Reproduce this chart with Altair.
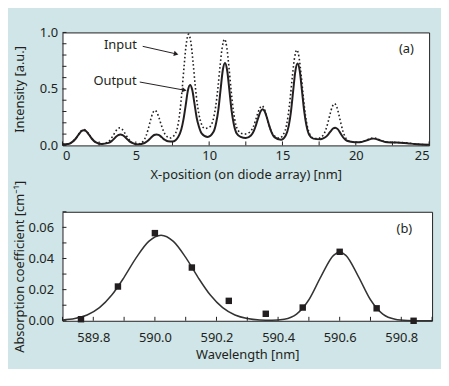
import altair as alt
import pandas as pd

INK = "#231f20"
BG = "#cfe5e8"
FONT = "Noto Sans"

# ---------------- panel (a) data ----------------
out_x = [0.0, 0.4, 0.65, 0.85, 1.0, 1.15, 1.3, 1.45, 1.6, 1.75, 1.9, 2.05, 2.25, 2.65,
         3.15, 3.35, 3.5, 3.65, 3.8, 3.95, 4.1, 4.25, 4.4, 4.55, 4.75, 5.15,
         5.6, 5.8, 5.95, 6.1, 6.25, 6.4, 6.55, 6.7, 6.85, 7.0, 7.2, 7.5,
         7.9, 8.1, 8.25, 8.4, 8.55, 8.7, 8.85, 9.0, 9.15, 9.3, 9.5, 9.9,
         10.3, 10.48, 10.63, 10.78, 10.93, 11.08, 11.23, 11.38, 11.53, 11.68, 11.88, 12.15, 12.5,
         12.85, 13.05, 13.2, 13.35, 13.5, 13.65, 13.8, 13.95, 14.1, 14.25, 14.45, 14.9,
         15.23, 15.43, 15.58, 15.73, 15.88, 16.03, 16.18, 16.33, 16.48, 16.63, 16.83, 17.1, 17.6,
         17.8, 18.0, 18.15, 18.3, 18.45, 18.6, 18.75, 18.9, 19.05, 19.2, 19.4, 19.8, 20.1,
         20.4, 20.6, 20.75, 20.9, 21.05, 21.2, 21.35, 21.5, 21.65, 21.8, 22.0, 22.5, 23.0, 23.5, 24.0, 24.5, 25.0]
out_y = [0.010, 0.013, 0.029, 0.052, 0.077, 0.105, 0.127, 0.135, 0.127, 0.105, 0.077, 0.052, 0.029, 0.013,
         0.022, 0.038, 0.056, 0.076, 0.091, 0.097, 0.091, 0.076, 0.056, 0.038, 0.022, 0.009,
         0.021, 0.038, 0.057, 0.077, 0.092, 0.097, 0.093, 0.080, 0.062, 0.048, 0.036, 0.034,
         0.077, 0.140, 0.230, 0.355, 0.485, 0.535, 0.490, 0.370, 0.245, 0.168, 0.105, 0.075,
         0.120, 0.200, 0.317, 0.494, 0.665, 0.730, 0.663, 0.489, 0.308, 0.190, 0.105, 0.075, 0.065,
         0.087, 0.128, 0.182, 0.245, 0.299, 0.320, 0.298, 0.241, 0.174, 0.117, 0.073, 0.050,
         0.090, 0.175, 0.300, 0.482, 0.658, 0.725, 0.658, 0.485, 0.305, 0.180, 0.092, 0.060, 0.055,
         0.064, 0.080, 0.102, 0.127, 0.149, 0.157, 0.146, 0.120, 0.088, 0.062, 0.041, 0.030, 0.028,
         0.031, 0.038, 0.045, 0.052, 0.058, 0.060, 0.058, 0.052, 0.045, 0.038, 0.031, 0.026, 0.024, 0.020, 0.012, 0.007, 0.005]

in_x = [0.0, 0.4, 0.65, 0.85, 1.0, 1.15, 1.3, 1.45, 1.6, 1.75, 1.9, 2.05, 2.25, 2.65,
        3.1, 3.3, 3.45, 3.6, 3.75, 3.9, 4.05, 4.2, 4.35, 4.5, 4.7, 5.1,
        5.5, 5.7, 5.85, 6.0, 6.15, 6.3, 6.45, 6.6, 6.75, 6.9, 7.1, 7.3,
        7.5, 7.8, 8.0, 8.15, 8.3, 8.45, 8.6, 8.75, 8.9, 9.05, 9.2, 9.4, 9.7,
        10.0, 10.25, 10.45, 10.6, 10.75, 10.9, 11.05, 11.2, 11.35, 11.5, 11.65, 11.85, 12.1, 12.4,
        12.8, 13.0, 13.15, 13.3, 13.45, 13.6, 13.75, 13.9, 14.05, 14.2, 14.4, 14.8,
        15.18, 15.38, 15.53, 15.68, 15.83, 15.98, 16.13, 16.28, 16.43, 16.58, 16.78, 17.1, 17.4,
        17.75, 17.95, 18.1, 18.25, 18.4, 18.55, 18.7, 18.85, 19.0, 19.15, 19.35, 19.75, 20.1,
        20.4, 20.6, 20.75, 20.9, 21.05, 21.2, 21.35, 21.5, 21.65, 21.8, 22.0, 22.5, 23.0, 23.5, 24.0, 24.5, 25.0]
in_y = [0.010, 0.013, 0.029, 0.054, 0.080, 0.109, 0.131, 0.140, 0.131, 0.109, 0.080, 0.054, 0.029, 0.013,
        0.030, 0.057, 0.087, 0.119, 0.145, 0.155, 0.145, 0.119, 0.087, 0.057, 0.030, 0.010,
        0.036, 0.085, 0.147, 0.222, 0.285, 0.310, 0.289, 0.237, 0.175, 0.122, 0.081, 0.065,
        0.075, 0.139, 0.290, 0.484, 0.714, 0.908, 0.985, 0.916, 0.740, 0.532, 0.358, 0.221, 0.150,
        0.160, 0.217, 0.347, 0.512, 0.709, 0.874, 0.940, 0.870, 0.694, 0.485, 0.309, 0.171, 0.115, 0.100,
        0.121, 0.162, 0.215, 0.277, 0.329, 0.350, 0.326, 0.266, 0.196, 0.136, 0.089, 0.065,
        0.131, 0.259, 0.422, 0.616, 0.780, 0.845, 0.780, 0.615, 0.420, 0.255, 0.127, 0.065, 0.060,
        0.086, 0.137, 0.202, 0.279, 0.344, 0.370, 0.342, 0.270, 0.186, 0.115, 0.059, 0.030, 0.028,
        0.032, 0.040, 0.048, 0.056, 0.063, 0.066, 0.063, 0.056, 0.048, 0.040, 0.032, 0.027, 0.025, 0.022, 0.013, 0.008, 0.005]

a_xlabels = [0, 5, 10, 15, 20, 25]
a_ylabels = [0.0, 0.5, 1.0]
a_xticks = [0, 2.5, 5, 7.5, 10, 12.5, 15, 17.5, 20, 22.5, 25]
a_yticks = [0.0, 0.1, 0.2, 0.3, 0.4, 0.5, 0.6, 0.7, 0.8, 0.9, 1.0]

a_labels = ["Input", "Output", "(a)"]
a_label_x = [3.95, 3.58, 23.45]
a_label_y = [0.892, 0.57, 0.85]
arrow_x1 = [5.47, 5.27]
arrow_y1 = [0.877, 0.561]
arrow_x2 = [7.75, 8.31]
arrow_y2 = [0.81, 0.489]

# ---------------- panel (b) data ----------------
meas_wl = [589.76, 589.88, 590.00, 590.12, 590.24, 590.36, 590.48, 590.60, 590.72, 590.84]
meas_abs = [0.0010, 0.0220, 0.0563, 0.0342, 0.0128, 0.0045, 0.0085, 0.0443, 0.0080, 0.0000]

fit_wl = [589.70, 589.74, 589.78, 589.82, 589.86, 589.90, 589.94, 589.98, 590.02, 590.06,
          590.10, 590.14, 590.18, 590.22, 590.26, 590.30, 590.34, 590.38, 590.42, 590.46,
          590.50, 590.54, 590.58, 590.60, 590.62, 590.66, 590.70, 590.74, 590.78, 590.82,
          590.86, 590.90]
fit_abs = [0.0005, 0.0014, 0.0037, 0.0084, 0.0165, 0.0279, 0.0407, 0.0510, 0.0550, 0.0510,
           0.0407, 0.0279, 0.0165, 0.0084, 0.0037, 0.0014, 0.0005, 0.0003, 0.0010, 0.0043,
           0.0135, 0.0287, 0.0420, 0.0440, 0.0420, 0.0287, 0.0135, 0.0043, 0.0010, 0.0002,
           0.0000, 0.0000]

b_xlabels = [589.8, 590.0, 590.2, 590.4, 590.6, 590.8]
b_ylabels = [0.00, 0.02, 0.04, 0.06]
b_xticks = [589.7, 589.8, 589.9, 590.0, 590.1, 590.2, 590.3, 590.4, 590.5, 590.6, 590.7, 590.8, 590.9]
b_yticks = [0.00, 0.01, 0.02, 0.03, 0.04, 0.05, 0.06, 0.07]
b_label = ["(b)"]
b_label_x = [590.81]
b_label_y = [0.0587]

# ---------------- panel (a) ----------------
WA, HA = 370, 114
sxa = alt.Scale(domain=[0, 25], nice=False, zero=False)
sya = alt.Scale(domain=[0, 1], nice=False, zero=False)
ax_xa = alt.Axis(title="X-position (on diode array)  [nm]", values=a_xlabels, format="d",
                 labelPadding=4, titlePadding=6)
ax_ya = alt.Axis(title="Intensity [a.u.]", values=a_ylabels, format=".1f",
                 labelPadding=5, titlePadding=0, minExtent=36, maxExtent=36)

def XA(f):
    return alt.X(f, type="quantitative", scale=sxa, axis=ax_xa)

def YA(f):
    return alt.Y(f, type="quantitative", scale=sya, axis=ax_ya)

df_in = pd.DataFrame({"x": in_x, "y": in_y})
df_out = pd.DataFrame({"x": out_x, "y": out_y})

line_in = alt.Chart(df_in).mark_line(color=INK, strokeWidth=1.6, strokeDash=[1.6, 2.4],
                                      interpolate="monotone").encode(x=XA("x"), y=YA("y"))
line_out = alt.Chart(df_out).mark_line(color=INK, strokeWidth=2,
                                        interpolate="monotone").encode(x=XA("x"), y=YA("y"))

ytick_a = alt.Chart(pd.DataFrame({"v": a_yticks})).mark_rule(color=INK, strokeWidth=1).encode(
    y=YA("v"), x=alt.value(0), x2=alt.value(4))
xtick_a = alt.Chart(pd.DataFrame({"v": a_xticks})).mark_rule(color=INK, strokeWidth=1).encode(
    x=XA("v"), y=alt.value(HA), y2=alt.value(HA - 4))

df_arrow = pd.DataFrame({"x1": arrow_x1, "y1": arrow_y1, "x2": arrow_x2, "y2": arrow_y2,
                         "ang": [13, 11]})
arrows = alt.Chart(df_arrow).mark_rule(color=INK, strokeWidth=1).encode(
    x=XA("x1"), y=YA("y1"), x2="x2:Q", y2="y2:Q")
heads = alt.Chart(df_arrow).mark_point(shape="triangle-right", filled=True, size=28,
                                        color=INK, opacity=1).encode(
    x=XA("x2"), y=YA("y2"), angle=alt.Angle("ang:Q", scale=None))

texts_a = alt.Chart(pd.DataFrame({"t": a_labels, "x": a_label_x, "y": a_label_y})).mark_text(
    font=FONT, fontSize=13, color=INK, align="center", baseline="middle").encode(
    x=XA("x"), y=YA("y"), text="t:N")

panel_a = alt.layer(line_in, line_out, ytick_a, xtick_a, arrows, heads, texts_a).properties(
    width=WA, height=HA)

# ---------------- panel (b) ----------------
WB, HB = 373, 110
sxb = alt.Scale(domain=[589.7, 590.9], nice=False, zero=False)
syb = alt.Scale(domain=[0, 0.07], nice=False, zero=False)
ax_xb = alt.Axis(title="Wavelength [nm]", values=b_xlabels, format=".1f",
                 labelPadding=11, titlePadding=4)
ax_yb = alt.Axis(title="Absorption coefficient [cm\u207b\u00b9]", values=b_ylabels, format=".2f",
                 labelPadding=9, titlePadding=0, minExtent=36, maxExtent=36)

def XB(f):
    return alt.X(f, type="quantitative", scale=sxb, axis=ax_xb)

def YB(f):
    return alt.Y(f, type="quantitative", scale=syb, axis=ax_yb)

fit_line = alt.Chart(pd.DataFrame({"x": fit_wl, "y": fit_abs})).mark_line(
    color="#333333", strokeWidth=1.5, interpolate="monotone").encode(x=XB("x"), y=YB("y"))
squares = alt.Chart(pd.DataFrame({"x": meas_wl, "y": meas_abs})).mark_point(
    shape="square", filled=True, size=42, color=INK, opacity=1).encode(x=XB("x"), y=YB("y"))
ytick_b = alt.Chart(pd.DataFrame({"v": b_yticks})).mark_rule(color=INK, strokeWidth=1).encode(
    y=YB("v"), x=alt.value(0), x2=alt.value(4))
xtick_b = alt.Chart(pd.DataFrame({"v": b_xticks})).mark_rule(color=INK, strokeWidth=1).encode(
    x=XB("v"), y=alt.value(HB), y2=alt.value(HB - 4))
texts_b = alt.Chart(pd.DataFrame({"t": b_label, "x": b_label_x, "y": b_label_y})).mark_text(
    font=FONT, fontSize=13, color=INK, align="center", baseline="middle").encode(
    x=XB("x"), y=YB("y"), text="t:N")

panel_b = alt.layer(fit_line, squares, ytick_b, xtick_b, texts_b).properties(width=WB, height=HB)

chart = alt.vconcat(panel_a, panel_b, spacing=67, bounds="flush").properties(
    background=BG,
    padding={"left": 5, "top": 16, "right": 5, "bottom": 5},
).configure_view(
    stroke=INK, strokeWidth=1, fill="white"
).configure_axis(
    ticks=False, domain=False, grid=False,
    labelFont=FONT, labelFontSize=13, labelColor=INK,
    titleFont=FONT, titleFontSize=13, titleColor=INK, titleFontWeight="normal",
)

chart.save("out.html", embed_options={"renderer": "svg", "actions": False})
